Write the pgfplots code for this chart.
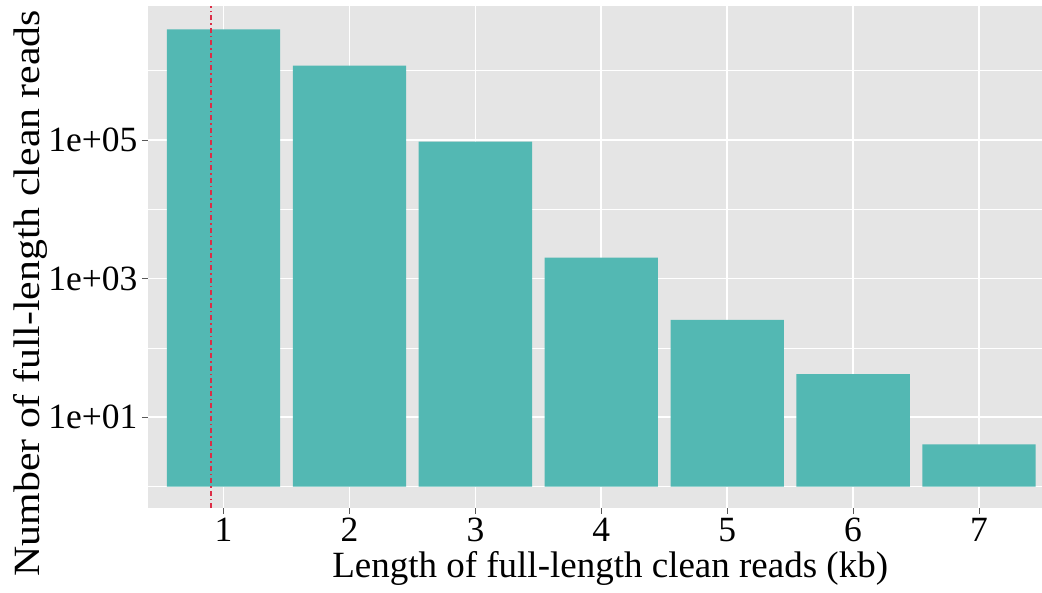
\documentclass[border=0pt]{standalone}
\usepackage{pgfplots}
\pgfplotsset{compat=1.18}
\usepackage{fontspec}
\setmainfont{Liberation Serif}
\definecolor{panelgray}{RGB}{229,229,229}
\definecolor{barteal}{RGB}{83,184,179}
\definecolor{vred}{RGB}{220,45,70}
\begin{document}
\begin{tikzpicture}
\useasboundingbox (-148pt,-84pt) rectangle (894pt,508pt);
\begin{axis}[
  scale only axis,
  width=894pt, height=502pt,
  xmin=0.4, xmax=7.5,
  ymode=log, ymin=0.491, ymax=8.6e6,
  axis background/.style={fill=panelgray},
  axis line style={draw=none},
  xtick={1,2,3,4,5,6,7},
  ytick={10,1000,100000},
  yticklabels={1e+01,1e+03,1e+05},
  minor ytick={1,100,10000,1000000},
  minor xtick={},
  grid=both,
  major grid style={white, line width=1.6pt},
  minor grid style={white, line width=0.7pt},
  tick align=outside,
  major tick length=6pt,
  minor tick length=0pt,
  tick style={gray!70!black, line width=0.8pt},
  xtick pos=bottom, ytick pos=left,
  /pgf/number format/assume math mode=true,
  tick label style={font=\fontsize{35.5}{36}\selectfont, text=black},
  xticklabel style={inner sep=0pt, text depth=0pt, yshift=-4pt},
  yticklabel style={xshift=-1pt},
  xlabel={Length of full-length clean reads (kb)},
  ylabel={\scalebox{1.13}[1]{Number of full-length clean reads}},
  every axis x label/.style={at={(axis description cs:0.517,-0.1394)}, anchor=base, inner sep=0pt, font=\fontsize{37}{37}\selectfont},
  every axis y label/.style={at={(axis description cs:-0.132,0.428)}, anchor=center, rotate=90, font=\fontsize{37}{37}\selectfont},
  clip=true,
]
\addplot[ybar, bar width=0.9, fill=barteal, draw=none] coordinates {
  (1,3.97e6) (2,1.19e6) (3,9.5e4) (4,2010) (5,254) (6,41.8) (7,4.08)
};
\addplot[vred, line width=1.3pt, dash pattern=on 5pt off 3pt on 1.5pt off 3pt] coordinates {(0.9,0.491) (0.9,8.6e6)};
\end{axis}
\end{tikzpicture}
\end{document}
